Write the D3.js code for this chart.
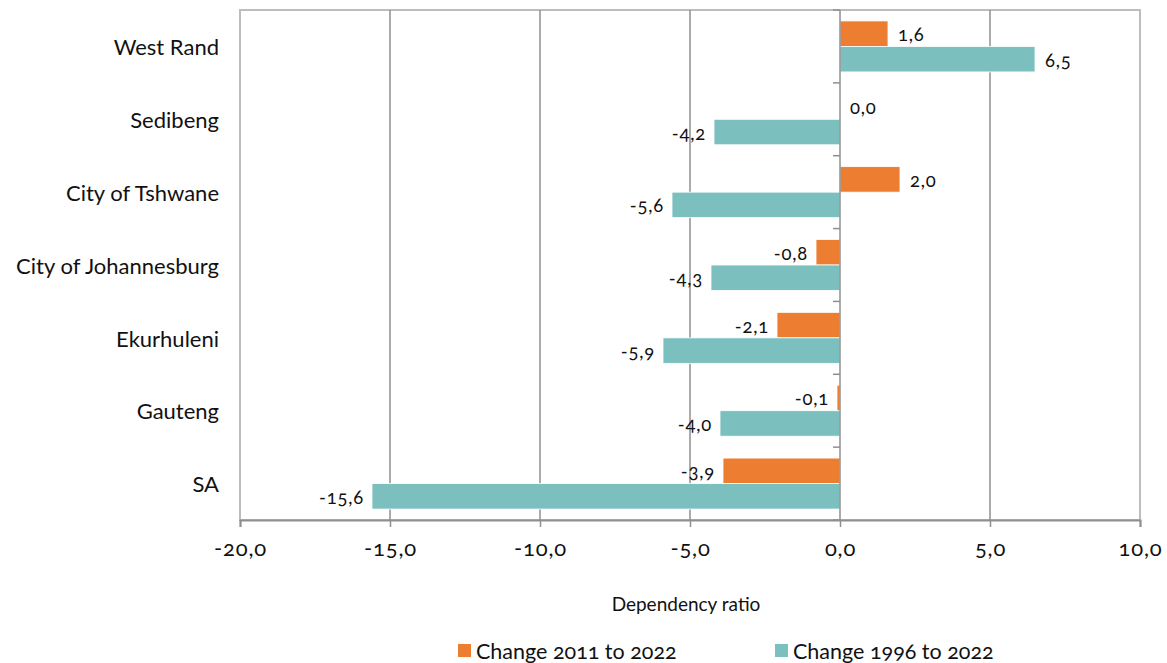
<!DOCTYPE html>
<html>
<head>
<meta charset="utf-8">
<script src="https://cdn.jsdelivr.net/npm/d3@7"></script>
<style>
  html, body { margin: 0; padding: 0; background: #ffffff; }
  svg text { font-family: Lato, "Open Sans", sans-serif; font-variant-numeric: oldstyle-nums; fill: #111; }
  .num { letter-spacing: 0.8px; }
</style>
</head>
<body>
<svg id="chart" width="1167" height="663"></svg>
<script>
// Districts, top to bottom
const categories = ["West Rand", "Sedibeng", "City of Tshwane", "City of Johannesburg", "Ekurhuleni", "Gauteng", "SA"];
// Change in dependency ratio
const change2011to2022 = [1.6, 0.0, 2.0, -0.8, -2.1, -0.1, -3.9];
const change1996to2022 = [6.5, -4.2, -5.6, -4.3, -5.9, -4.0, -15.6];
const seriesNames = ["Change 2011 to 2022", "Change 1996 to 2022"];
const xTicks = [-20, -15, -10, -5, 0, 5, 10];

const colors = ["#ED7D31", "#7BBFBF"];
const fmt = v => v.toFixed(1).replace(".", ",");

const svg = d3.select("#chart");
const m = { left: 240, right: 1140, top: 10, bottom: 520 };

const x = d3.scaleLinear().domain([-20, 10]).range([m.left, m.right]);
const y = d3.scaleBand().domain(categories).range([m.top, m.bottom]).paddingInner(0.3).paddingOuter(0.15);
const sub = d3.scaleBand().domain([0, 1]).range([0, y.bandwidth()]);

// Outer frame
svg.append("rect")
  .attr("x", m.left).attr("y", m.top)
  .attr("width", m.right - m.left).attr("height", m.bottom - m.top)
  .attr("fill", "none").attr("stroke", "#bdbdbd").attr("stroke-width", 2);

// Vertical gridlines
svg.append("g").selectAll("line")
  .data(xTicks.filter(t => t !== 0 && t !== -20 && t !== 10))
  .join("line")
  .attr("x1", d => x(d)).attr("x2", d => x(d))
  .attr("y1", m.top).attr("y2", m.bottom)
  .attr("stroke", "#8f8f8f").attr("stroke-width", 1.5);

// Bottom axis
const xAxis = svg.append("g")
  .attr("transform", `translate(0,${m.bottom})`)
  .call(d3.axisBottom(x).tickValues(xTicks).tickSize(7).tickPadding(13).tickFormat(fmt));
xAxis.select(".domain").attr("stroke", "#8f8f8f").attr("stroke-width", 2);
xAxis.selectAll(".tick line").attr("stroke", "#8f8f8f").attr("stroke-width", 1.5);
xAxis.selectAll(".tick text").attr("class", "num").attr("font-size", 22).attr("fill", "#111")
  .style("font-family", "Lato, sans-serif");

// Bars
const groups = svg.append("g").selectAll("g")
  .data(categories)
  .join("g")
  .attr("transform", d => `translate(0,${y(d)})`);

const series = [change2011to2022, change1996to2022];
series.forEach((vals, si) => {
  groups.append("rect")
    .attr("x", (d, i) => Math.min(x(0), x(vals[i])))
    .attr("y", sub(si))
    .attr("width", (d, i) => Math.abs(x(vals[i]) - x(0)))
    .attr("height", sub.bandwidth())
    .attr("fill", colors[si])
    .attr("stroke", "#fff").attr("stroke-width", 0.8);

  groups.append("text")
    .attr("class", "num")
    .attr("x", (d, i) => vals[i] >= 0 ? x(vals[i]) + 10 : x(vals[i]) - 8)
    .attr("y", sub(si) + sub.bandwidth() / 2 + 1)
    .attr("dy", "0.35em")
    .attr("text-anchor", (d, i) => vals[i] >= 0 ? "start" : "end")
    .attr("font-size", 18.5)
    .text((d, i) => fmt(vals[i]));
});

// Vertical zero axis with category ticks
svg.append("line")
  .attr("x1", x(0)).attr("x2", x(0))
  .attr("y1", m.top).attr("y2", m.bottom)
  .attr("stroke", "#8f8f8f").attr("stroke-width", 1.5);
const bounds = d3.range(categories.length + 1).map(i => m.top + i * (m.bottom - m.top) / categories.length);
svg.append("g").selectAll("line")
  .data(bounds)
  .join("line")
  .attr("x1", x(0) - 7).attr("x2", x(0))
  .attr("y1", d => d).attr("y2", d => d)
  .attr("stroke", "#8f8f8f").attr("stroke-width", 1.5);

// Category labels
svg.append("g").selectAll("text")
  .data(categories)
  .join("text")
  .attr("x", 219)
  .attr("y", d => y(d) + y.bandwidth() / 2 + 1)
  .attr("dy", "0.35em")
  .attr("text-anchor", "end")
  .attr("font-size", 22)
  .text(d => d);

// Axis title
svg.append("text")
  .attr("x", 686).attr("y", 611)
  .attr("text-anchor", "middle")
  .attr("font-size", 19)
  .text("Dependency ratio");

// Legend
const legend = svg.append("g");
const legendX = [458, 775];
seriesNames.forEach((name, i) => {
  legend.append("rect")
    .attr("x", legendX[i]).attr("y", 644)
    .attr("width", 13).attr("height", 13)
    .attr("fill", colors[i]);
  legend.append("text")
    .attr("x", legendX[i] + 18).attr("y", 651)
    .attr("dy", "0.35em")
    .attr("font-size", 21.5)
    .text(name);
});
</script>
</body>
</html>
